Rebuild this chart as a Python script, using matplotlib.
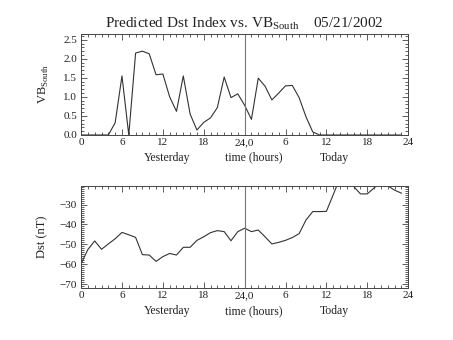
import matplotlib
matplotlib.use("Agg")
import matplotlib.pyplot as plt
import numpy as np
from matplotlib.ticker import MultipleLocator

plt.rcParams["font.family"] = ["Liberation Serif", "DejaVu Serif"]
plt.rcParams["mathtext.fontset"] = "custom"
plt.rcParams["mathtext.rm"] = "Liberation Serif"

FIG_W, FIG_H, DPI = 4.53, 3.40, 100
LINE_COLOR = "#333333"
AXIS_COLOR = "#444444"

# hourly values, hour 0 = start of yesterday
HOURS = np.arange(48)
VB_SOUTH = [
    0, 0, 0, 0, 0, 0.32, 1.55, 0, 2.15, 2.2, 2.13, 1.58,
    1.6, 1.0, 0.62, 1.55, 0.55, 0.13, 0.33, 0.45, 0.72, 1.52, 0.98, 1.08,
    0.78, 0.41, 1.49, 1.28, 0.92, 1.1, 1.29, 1.3, 0.98, 0.48, 0.08, 0,
    0, 0, 0, 0, 0, 0, 0, 0, 0, 0, 0, 0,
]
DST = [
    -59.8, -52.6, -48.3, -52.5, -49.8, -47.2, -44.0, -45.2, -46.5, -55.2, -55.4, -58.6,
    -56.2, -54.6, -55.4, -51.5, -51.5, -48.0, -46.2, -44.1, -43.1, -43.6, -48.2, -43.6,
    -41.9, -43.6, -42.8, -46.2, -49.8, -49.0, -48.0, -46.6, -44.6, -37.8, -33.5, -33.5,
    -33.4, -25.0, -16.5, -16.0, -20.8, -24.6, -24.6, -21.6, -18.5, -20.5, -22.7, -24.2,
]
XTICKS = [0, 6, 12, 18, 24, 30, 36, 42, 48]
XTICK_LABELS = ["0", "6", "12", "18", "24,0", "6", "12", "18", "24"]
DAY_LABELS = [("Yesterday", 0.262), ("time (hours)", 0.527), ("Today", 0.775)]
TITLE = r"Predicted Dst Index vs. VB$_{\rm South}$    05/21/2002"


def style_panel(ax, ylabel, y_major, y_minor, label_x):
    ax.set_xlim(0, 48)
    ax.set_xticks(XTICKS)
    ax.set_xticklabels(XTICK_LABELS)
    ax.xaxis.set_minor_locator(MultipleLocator(1))
    ax.yaxis.set_major_locator(MultipleLocator(y_major))
    ax.yaxis.set_minor_locator(MultipleLocator(y_minor))
    ax.tick_params(which="both", direction="in", top=True, right=True,
                   colors=AXIS_COLOR, labelcolor="#222222", labelsize=8, width=0.6)
    ax.tick_params(which="major", length=4, pad=3)
    ax.tick_params(axis="x", which="major", pad=2.5)
    ax.tick_params(which="minor", length=2)
    for spine in ax.spines.values():
        spine.set_color(AXIS_COLOR)
        spine.set_linewidth(0.7)
    ax.set_ylabel(ylabel, fontsize=9, color="#222222")
    ax.yaxis.set_label_coords(label_x, 0.5)
    ax.axvline(24, color="#777777", linewidth=0.8)
    for text, xpos in DAY_LABELS:
        ax.text(xpos, -0.255, text, transform=ax.transAxes, ha="center", va="baseline",
                fontsize=8.5, color="#222222")


fig = plt.figure(figsize=(FIG_W, FIG_H), dpi=DPI)
fig.patch.set_facecolor("white")

ax1 = fig.add_axes([0.179, 0.603, 0.722, 0.297])
ax1.plot(HOURS, VB_SOUTH, color=LINE_COLOR, linewidth=0.8)
ax1.set_ylim(0, 2.65)
ax1.set_yticks([0.0, 0.5, 1.0, 1.5, 2.0, 2.5])
ax1.set_yticklabels(["0.0", "0.5", "1.0", "1.5", "2.0", "2.5"])
style_panel(ax1, r"VB$_{\rm South}$", 0.5, 0.1, -0.092)
ax1.set_title(TITLE, fontsize=11, color="#222222", pad=5)

ax2 = fig.add_axes([0.179, 0.153, 0.722, 0.3])
ax2.plot(HOURS, DST, color=LINE_COLOR, linewidth=0.8)
ax2.set_ylim(-72, -20.6)
style_panel(ax2, "Dst (nT)", 10, 1, -0.1)

fig.savefig("out.png", dpi=DPI, facecolor="white")
